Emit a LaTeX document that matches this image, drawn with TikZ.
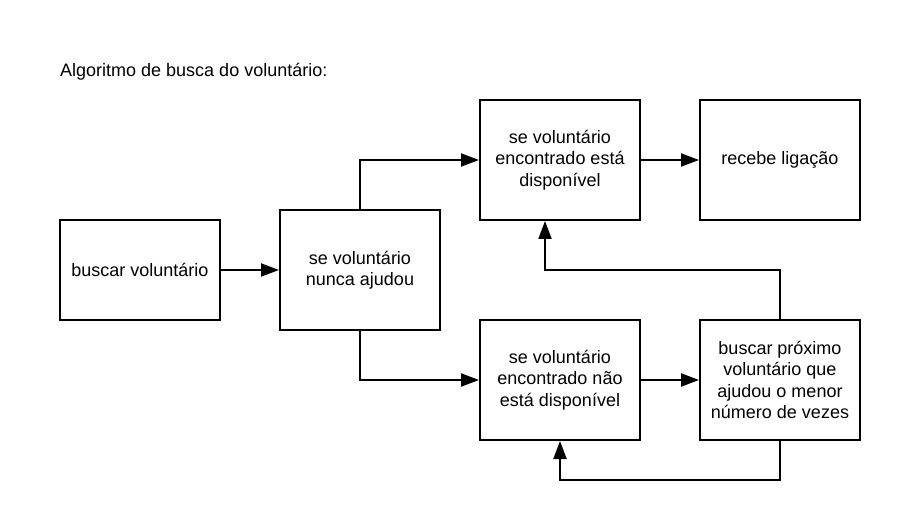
\documentclass[tikz,border=0pt]{standalone}
\usepackage{fontspec}
\setmainfont{Liberation Sans}
\usetikzlibrary{arrows.meta}
\begin{document}
\begin{tikzpicture}[x=1pt,y=-1pt,
  box/.style={draw,line width=2pt,rectangle,minimum width=160pt,inner sep=0pt,align=center,font=\fontsize{18}{21.5}\selectfont},
  arr/.style={line width=2pt,-{Triangle[length=18pt,width=13pt]}}]
\useasboundingbox[fill=white] (0,0) rectangle (900,521);
\node[anchor=base west,font=\fontsize{18}{21.5}\selectfont,inner sep=0pt] (title) at (60,77) {Algoritmo de busca do voluntário:};
\node[box,minimum height=100pt] (b1) at (140,270) {buscar voluntário};
\node[box,minimum height=120pt] (b2) at (360,270) {se voluntário\\nunca ajudou};
\node[box,minimum height=120pt] (b3) at (560,160) {se voluntário\\encontrado está\\disponível};
\node[box,minimum height=120pt] (b4) at (780,160) {recebe ligação};
\node[box,minimum height=120pt] (b5) at (560,380) {se voluntário\\encontrado não\\está disponível};
\node[box,minimum height=120pt] (b6) at (780,380) {buscar próximo\\voluntário que\\ajudou o menor\\número de vezes};
\coordinate (c1) at (545,270);
\coordinate (c2) at (560,480);
\draw[arr] (b1) -- (b2);
\draw[arr] (b2.north) |- (b3.west);
\draw[arr] (b2.south) |- (b5.west);
\draw[arr] (b3) -- (b4);
\draw[arr] (b5) -- (b6);
\draw[arr] (b6.north) |- (c1) -- (c1 |- b3.south);
\draw[arr] (b6.south) |- (c2) -- (c2 |- b5.south);
\end{tikzpicture}
\end{document}
